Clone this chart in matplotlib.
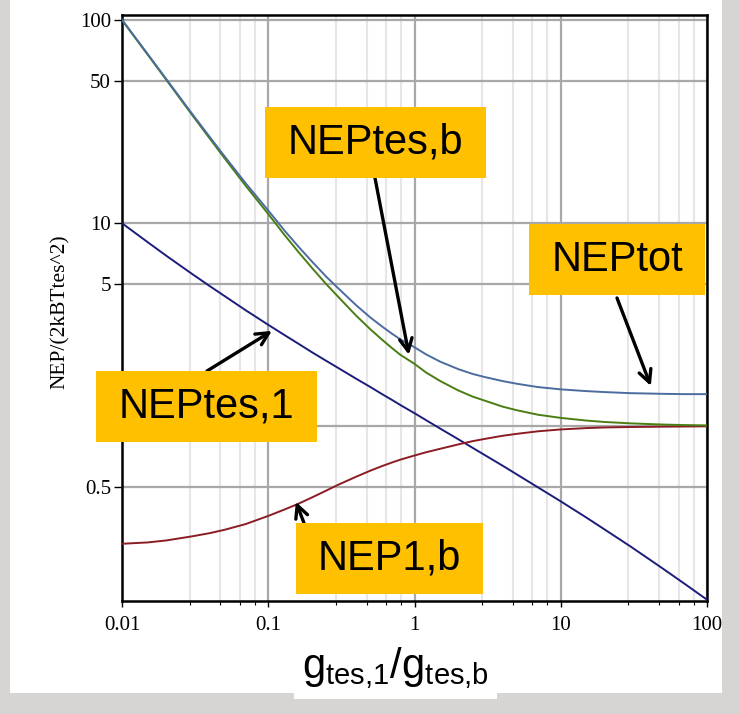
import matplotlib
matplotlib.use("Agg")
import matplotlib.pyplot as plt
from matplotlib.patches import Rectangle
from matplotlib.ticker import FixedLocator, NullFormatter

plt.rcParams.update({
    'font.family': 'serif',
    'font.serif': ['Liberation Serif', 'DejaVu Serif'],
    'mathtext.default': 'regular',
})

# Values
ratio = [0.01, 0.015, 0.02, 0.03, 0.04, 0.05, 0.07, 0.1, 0.13, 0.16, 0.2, 0.25,
         0.3, 0.4, 0.5, 0.6, 0.7, 0.8, 1, 1.2, 1.5, 2, 2.5, 3, 4, 5, 7,
         10, 15, 20, 30, 50, 70, 100]
nep_tes1 = [10.0, 8.06, 6.93, 5.64, 4.89, 4.39, 3.73, 3.16, 2.805, 2.556, 2.31, 2.097,
            1.94, 1.713, 1.56, 1.44, 1.35, 1.273, 1.16, 1.072, 0.974, 0.862, 0.783, 0.724, 0.640, 0.580, 0.500,
            0.427, 0.355, 0.310, 0.256, 0.199, 0.168, 0.140]
nep_tesb = [100, 67.5, 51, 34.3, 26, 21, 15.3, 11.1, 8.7, 7.25, 6.0, 5.0,
            4.35, 3.5, 3.0, 2.67, 2.43, 2.25, 2.03, 1.84, 1.67, 1.5, 1.4, 1.34, 1.25, 1.2, 1.14,
            1.1, 1.067, 1.05, 1.034, 1.02, 1.014, 1.01]
nep_1b = [0.264, 0.268, 0.274, 0.287, 0.298, 0.309, 0.33, 0.362, 0.39, 0.415, 0.447, 0.483,
          0.515, 0.565, 0.605, 0.637, 0.663, 0.685, 0.718, 0.745, 0.775, 0.815, 0.845, 0.866, 0.898, 0.918, 0.945,
          0.965, 0.98, 0.987, 0.992, 0.996, 0.998, 1.0]
nep_tot = [100.5, 68.0, 51.47, 34.76, 26.46, 21.46, 15.75, 11.55, 9.15, 7.70, 6.45, 5.44,
           4.79, 3.94, 3.43, 3.10, 2.86, 2.68, 2.45, 2.26, 2.08, 1.91, 1.81, 1.75, 1.67, 1.62, 1.56,
           1.52, 1.49, 1.474, 1.456, 1.445, 1.44, 1.44]

x_ticks = [0.01, 0.1, 1, 10, 100]
x_ticklabels = ['0.01', '0.1', '1', '10', '100']
y_ticks = [0.5, 1, 5, 10, 50, 100]
y_ticklabels = ['0.5', '', '5', '10', '50', '100']

fig = plt.figure(figsize=(7.39, 7.14), dpi=100)
fig.patch.set_facecolor('#d6d5d3')

# white slide panel behind the plot
fig.patches.append(Rectangle((10 / 739, 1 - 693 / 714), 712 / 739, 693 / 714,
                             transform=fig.transFigure, facecolor='white',
                             edgecolor='none', zorder=-5))

ax = fig.add_axes([0.1651, 0.1583, 0.7916, 0.8207])
ax.set_zorder(1)
ax.set_xscale('log')
ax.set_yscale('log')
ax.set_xlim(0.01, 100)
ax.set_ylim(0.138, 106)

ax.plot(ratio, nep_tes1, color='#1c1c7c', lw=1.4, zorder=3)
ax.plot(ratio, nep_1b, color='#8b1c24', lw=1.4, zorder=3)
ax.plot(ratio, nep_tesb, color='#4a7d12', lw=1.4, zorder=3)
ax.plot(ratio, nep_tot, color='#4b6c9e', lw=1.4, zorder=4)

ax.xaxis.set_major_locator(FixedLocator(x_ticks))
ax.set_xticklabels(x_ticklabels)
minor = [d * m for d in [0.01, 0.1, 1, 10] for m in [2.9, 4.7, 6.4, 8.1]]
ax.xaxis.set_minor_locator(FixedLocator(minor))
ax.xaxis.set_minor_formatter(NullFormatter())
ax.yaxis.set_major_locator(FixedLocator(y_ticks))
ax.set_yticklabels(y_ticklabels)
ax.yaxis.set_minor_locator(FixedLocator([]))

ax.grid(True, which='major', color='#a8a8a8', lw=1.6, zorder=1)
ax.grid(True, which='minor', axis='x', color='#e6e6e6', lw=1.5, zorder=1)
ax.set_axisbelow(True)

ax.tick_params(axis='x', which='major', length=4, width=1, pad=7, labelsize=15)
ax.tick_params(axis='x', which='minor', length=3, width=0.8)
ax.tick_params(axis='y', which='major', length=6, width=1, pad=2, labelsize=15)
for s in ax.spines.values():
    s.set_linewidth(1.8)
    s.set_color('black')

fig.text(60 / 739, 1 - 312 / 714, 'NEP/(2kBTtes^2)', rotation=90,
         ha='center', va='center', fontsize=15.5)

fig.text(0.535, 0.064, r'$g_{tes{,}1}/g_{tes{,}b}$', ha='center', va='center',
         fontsize=30, family='Liberation Sans',
         bbox=dict(facecolor='white', edgecolor='none', pad=6))

# yellow callout boxes (figure pixels: left, top, right, bottom)
boxes = [
    ('NEPtes,b', 265, 107, 486, 178, (375, 178), (0.916, 2.25)),
    ('NEPtot', 529, 224, 705, 295, (617, 298), (41.3, 1.58)),
    ('NEPtes,1', 96, 371, 317, 442, (207, 371), (0.106, 2.95)),
    ('NEP1,b', 296, 523, 483, 594, (304, 523), (0.1545, 0.425)),
]
for label, l, t, r, b, start, tip in boxes:
    fig.patches.append(Rectangle((l / 739, 1 - b / 714), (r - l) / 739, (b - t) / 714,
                                 transform=fig.transFigure, facecolor='#ffc000',
                                 edgecolor='none', zorder=5))
    fig.text((l + r) / 2 / 739, 1 - (t + b) / 2 / 714, label, ha='center',
             va='center', fontsize=30, family='Liberation Sans', zorder=6)
    ax.annotate('', xy=tip, xycoords='data',
                xytext=(start[0] / 739, 1 - start[1] / 714), textcoords='figure fraction',
                arrowprops=dict(arrowstyle='->,head_length=0.9,head_width=0.45',
                                lw=2.4, color='black', shrinkA=0, shrinkB=0),
                annotation_clip=False, zorder=7)

plt.savefig('out.png', dpi=100, facecolor=fig.get_facecolor())
